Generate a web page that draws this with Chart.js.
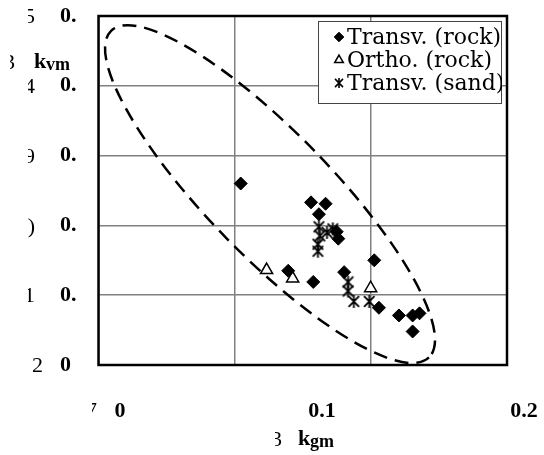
<!DOCTYPE html>
<html>
<head>
<meta charset="utf-8">
<script src="https://cdn.jsdelivr.net/npm/chart.js@4/dist/chart.umd.min.js"></script>
<style>
  html, body { margin: 0; padding: 0; background: #fff; }
  #c { display: block; }
</style>
</head>
<body>
<canvas id="c" width="544" height="455"></canvas>
<script>
// k_gm (x) and k_vm (y) for each specimen group
const kgmTransvRock = [0.0598, 0.0946, 0.1018, 0.0985, 0.1073, 0.1081, 0.1259, 0.0833, 0.0957, 0.1110, 0.1282, 0.1381, 0.1449, 0.1483, 0.1449];
const kvmTransvRock = [0.260, 0.233, 0.231, 0.216, 0.191, 0.181, 0.150, 0.135, 0.119, 0.133, 0.082, 0.071, 0.071, 0.074, 0.048];

const kgmOrthoRock = [0.0726, 0.0855, 0.1241];
const kvmOrthoRock = [0.136, 0.124, 0.110];

const kgmTransvSand = [0.0985, 0.0990, 0.0980, 0.0980, 0.1025, 0.1054, 0.1129, 0.1129, 0.1158, 0.1234];
const kvmTransvSand = [0.198, 0.185, 0.173, 0.163, 0.190, 0.195, 0.119, 0.106, 0.091, 0.091];

const seriesLabels = ['Transv. (rock)', 'Ortho. (rock)', 'Transv. (sand)'];

// axis ticks
const xTickValues = [0, 0.1, 0.2];
const xTickLabels = ['0', '0.1', '0.2'];
const yTickLabels = ['0', '0.', '0.', '0.', '0.', '0.'];
const yTickPrefixes = ['2', '1', ')', '9', '4', '5'];

// dashed envelope: centre plus two conjugate semi-axes, in axis units
const envelopeCentre = { x: 0.0743, y: 0.2448 };
const envelopeAxisA = { x: 0.07866, y: -0.2340 };
const envelopeAxisB = { x: 0.02203, y: 0.0618 };

const X_MIN = -0.0106, X_MAX = 0.1916;

function pairs(xs, ys) { return xs.map((x, i) => ({ x: x, y: ys[i] })); }

// six-armed asterisk marker
function asteriskMarker(r, lw) {
  const s = Math.ceil(r * 2 + 4);
  const c = document.createElement('canvas');
  c.width = s; c.height = s;
  const g = c.getContext('2d');
  const m = s / 2;
  g.strokeStyle = '#000';
  g.lineWidth = lw;
  g.beginPath();
  g.moveTo(m, m - r); g.lineTo(m, m + r);
  const dx = r * 0.8, dy = r * 0.82;
  g.moveTo(m - dx, m - dy); g.lineTo(m + dx, m + dy);
  g.moveTo(m + dx, m - dy); g.lineTo(m - dx, m + dy);
  g.stroke();
  return c;
}
const asterisk = asteriskMarker(6.5, 1.8);
const asteriskSmall = asteriskMarker(5, 1.6);

const SERIF = '"Liberation Serif", "Times New Roman", serif';

function drawClipped(ctx, text, rightX, midY, clipLeft, font) {
  ctx.save();
  ctx.beginPath();
  ctx.rect(clipLeft, midY - 20, rightX - clipLeft + 2, 40);
  ctx.clip();
  ctx.font = font;
  ctx.fillStyle = '#000';
  ctx.textAlign = 'right';
  ctx.textBaseline = 'middle';
  ctx.fillText(text, rightX, midY);
  ctx.restore();
}

const envelopePlugin = {
  id: 'envelope',
  beforeDatasetsDraw(chart) {
    const { ctx, chartArea: a, scales: { x: xs, y: ys } } = chart;
    const cx = xs.getPixelForValue(envelopeCentre.x);
    const cy = ys.getPixelForValue(envelopeCentre.y);
    const ax = xs.getPixelForValue(envelopeCentre.x + envelopeAxisA.x) - cx;
    const ay = ys.getPixelForValue(envelopeCentre.y + envelopeAxisA.y) - cy;
    const bx = xs.getPixelForValue(envelopeCentre.x + envelopeAxisB.x) - cx;
    const by = ys.getPixelForValue(envelopeCentre.y + envelopeAxisB.y) - cy;
    ctx.save();
    ctx.beginPath();
    ctx.ellipse(cx, cy, Math.hypot(ax, ay), Math.hypot(bx, by), Math.atan2(ay, ax), 0, Math.PI * 2);
    ctx.setLineDash([14, 8]);
    ctx.lineWidth = 2.5;
    ctx.strokeStyle = '#000';
    ctx.stroke();
    ctx.setLineDash([]);
    // plot frame
    ctx.lineWidth = 2.5;
    ctx.strokeRect(a.left, a.top, a.right - a.left, a.bottom - a.top);
    ctx.restore();
  }
};

const legendPlugin = {
  id: 'boxLegend',
  afterDatasetsDraw(chart) {
    const { ctx, chartArea: a } = chart;
    const w = 183, h = 82;
    const left = a.right - 6 - w, top = a.top + 5;
    ctx.save();
    ctx.fillStyle = '#fff';
    ctx.fillRect(left, top, w, h);
    ctx.strokeStyle = '#444';
    ctx.lineWidth = 1;
    ctx.strokeRect(left + 0.5, top + 0.5, w, h);
    ctx.beginPath();
    ctx.rect(left, top, w + 1, h + 1);
    ctx.clip();
    ctx.font = '22px "DejaVu Serif", serif';
    ctx.textBaseline = 'middle';
    ctx.textAlign = 'left';
    chart.data.datasets.forEach((ds, i) => {
      const yy = top + 16 + i * 23;
      ctx.fillStyle = ds.backgroundColor || '#000';
      ctx.strokeStyle = ds.borderColor || '#000';
      ctx.lineWidth = ds.borderWidth || 1;
      Chart.helpers.drawPoint(ctx, {
        pointStyle: ds.legendStyle || ds.pointStyle, radius: ds.legendRadius, rotation: 0, borderWidth: ds.borderWidth || 1
      }, left + 21, yy);
      ctx.fillStyle = '#000';
      ctx.fillText(ds.label, left + 29, yy + 1);
    });
    ctx.restore();
  }
};

const textPlugin = {
  id: 'axisText',
  afterDraw(chart) {
    const { ctx, scales: { x: xs, y: ys } } = chart;
    ctx.save();
    ctx.fillStyle = '#000';
    ctx.textBaseline = 'middle';
    ctx.textAlign = 'center';
    ctx.font = 'bold 22px ' + SERIF;
    xTickValues.forEach((v, i) => ctx.fillText(xTickLabels[i], xs.getPixelForValue(v), 411));
    ctx.restore();

    const reg = '22px ' + SERIF;
    yTickPrefixes.forEach((t, i) => {
      const py = ys.getPixelForValue(i / 10) + 1.5;
      if (i === 0) drawClipped(ctx, t, 43, py, 32, reg);
      else drawClipped(ctx, t, 35, py, 28, reg);
    });
    drawClipped(ctx, '3', 15, 63, 10, reg);
    drawClipped(ctx, '7', 97, 411, 92, reg);
    drawClipped(ctx, '3', 282, 440, 275, reg);

    ctx.save();
    ctx.fillStyle = '#000';
    ctx.textAlign = 'left';
    ctx.textBaseline = 'alphabetic';
    ctx.font = 'bold 22px ' + SERIF;
    ctx.fillText('k', 34, 68);
    ctx.font = 'bold 18px ' + SERIF;
    ctx.fillText('vm', 46, 70);
    ctx.font = 'bold 22px ' + SERIF;
    ctx.fillText('k', 298, 445);
    ctx.font = 'bold 18px ' + SERIF;
    ctx.fillText('gm', 310, 447);
    ctx.restore();
  }
};

new Chart(document.getElementById('c'), {
  type: 'scatter',
  data: {
    datasets: [
      {
        label: seriesLabels[0], data: pairs(kgmTransvRock, kvmTransvRock),
        pointStyle: 'rectRot', pointRadius: 6.5, legendRadius: 4.8,
        backgroundColor: '#000', borderColor: '#000', borderWidth: 1
      },
      {
        label: seriesLabels[1], data: pairs(kgmOrthoRock, kvmOrthoRock),
        pointStyle: 'triangle', pointRadius: 7, legendRadius: 5,
        backgroundColor: '#fff', borderColor: '#000', borderWidth: 1.5
      },
      {
        label: seriesLabels[2], data: pairs(kgmTransvSand, kvmTransvSand),
        pointStyle: asterisk, legendStyle: asteriskSmall, pointRadius: 6, legendRadius: 5,
        backgroundColor: '#000', borderColor: '#000', borderWidth: 1
      }
    ]
  },
  options: {
    responsive: false,
    animation: false,
    events: [],
    layout: { padding: { left: 60, right: 37, top: 16, bottom: 0 } },
    plugins: { legend: { display: false }, tooltip: { enabled: false } },
    scales: {
      x: {
        type: 'linear', min: X_MIN, max: X_MAX,
        afterBuildTicks(s) {
          const step = (X_MAX - X_MIN) / 3;
          s.ticks = [0, 1, 2, 3].map(k => ({ value: X_MIN + k * step }));
        },
        afterFit(s) { s.height = 90; },
        ticks: { display: false },
        grid: { color: '#808080', lineWidth: 1.5, drawTicks: false },
        border: { display: false }
      },
      y: {
        type: 'linear', min: 0, max: 0.5,
        afterFit(s) { s.width = 38.5; },
        ticks: {
          stepSize: 0.1, padding: 0, crossAlign: 'far', color: '#000',
          font: { family: SERIF, weight: 'bold', size: 22 },
          callback: (v, i) => yTickLabels[i]
        },
        grid: { color: '#808080', lineWidth: 1.5, drawTicks: false },
        border: { display: false }
      }
    }
  },
  plugins: [envelopePlugin, legendPlugin, textPlugin]
});
</script>
</body>
</html>
